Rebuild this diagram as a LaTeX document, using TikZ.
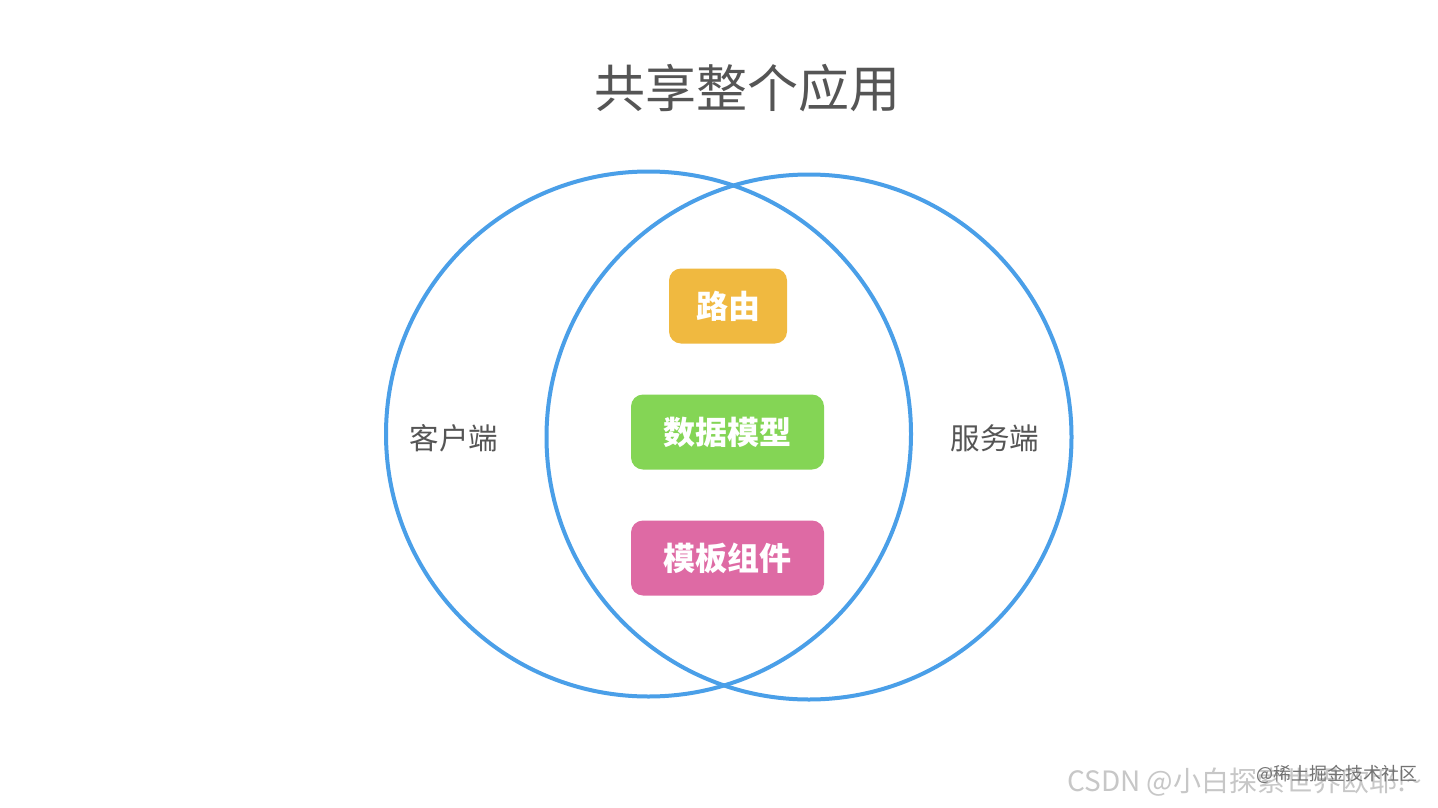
\documentclass[tikz,border=0pt]{standalone}
\usepackage{fontspec}
\setmainfont{Noto Sans CJK SC}
\usepackage{tikz}
\usetikzlibrary{positioning}

\definecolor{vennblue}{HTML}{4A9FE8}
\definecolor{labelgray}{HTML}{555555}
\definecolor{routeorange}{HTML}{F0B940}
\definecolor{modelgreen}{HTML}{84D555}
\definecolor{viewpink}{HTML}{DE6AA4}

\begin{document}
\begin{tikzpicture}[x=1pt,y=-1pt,
	ring/.style={circle,draw=vennblue,line width=4pt,minimum size=525pt,inner sep=0pt},
	side label/.style={text=labelgray,font=\fontsize{29.5}{29.5}\selectfont},
	part box/.style={rounded corners=12pt,text=white,minimum height=75pt,inner sep=0pt,
		font=\fontsize{32}{32}\selectfont\bfseries}]
	
	\fill[white] (0,0) rectangle (1438,808);
	\useasboundingbox (0,0) rectangle (1438,808);
	
	\node[text=labelgray,font=\fontsize{51}{51}\selectfont] (title) at (747,88) {共享整个应用};
	
	\node[ring] (client) at (648.5,434) {};
	\node[ring] (server) at (809,437) {};
	
	\node[side label] (clientlabel) at (454,438) {客户端};
	\node[side label] (serverlabel) at (995,438) {服务端};
	
	\node[part box,fill=routeorange,minimum width=118pt] (route) at (728,306) {路由};
	\node[part box,fill=modelgreen,minimum width=193pt] (model) at (727.5,432) {数据模型};
	\node[part box,fill=viewpink,minimum width=193pt] (view) at (727.5,558) {模板组件};
	
	% watermark
	\node[anchor=west,inner sep=0pt,text=black!22,font=\fontsize{28}{28}\selectfont] (mark) at (1067,782) {CSDN @小白探索世界欧耶!\textasciitilde};
	\node[anchor=west,inner sep=0pt,text=black!55,font=\fontsize{18}{18}\selectfont] (markb) at (1256,774) {@稀土掘金技术社区};
\end{tikzpicture}
\end{document}
